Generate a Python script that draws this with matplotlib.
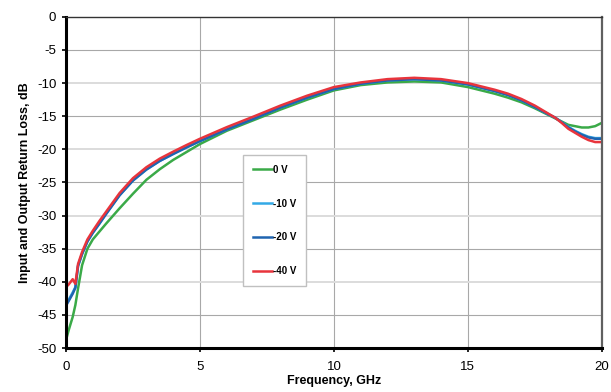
import numpy as np
import matplotlib
matplotlib.use("Agg")
import matplotlib.pyplot as plt

plt.rcParams['font.family'] = ['Liberation Sans', 'DejaVu Sans']
plt.rcParams['axes.unicode_minus'] = False

# frequency points, GHz
freq = [0, 0.1, 0.25, 0.35, 0.45, 0.6, 0.8, 1.0, 1.25, 1.5, 2.0, 2.5, 3.0, 3.5, 4.0,
        4.5, 5.0, 6.0, 7.0, 8.0, 9.0, 10.0, 11.0, 12.0, 13.0, 14.0, 15.0, 16.0, 16.5,
        17.0, 17.5, 18.0, 18.25, 18.5, 18.75, 19.0, 19.25, 19.5, 19.75, 20.0]

# 0 V
rl_0v = [-48.8, -47.3, -45.3, -43.5, -41.0, -37.5, -35.0, -33.6, -32.4, -31.2, -28.9,
         -26.7, -24.6, -23.0, -21.6, -20.4, -19.2, -17.2, -15.6, -14.0, -12.5, -11.1,
         -10.3, -9.9, -9.75, -9.9, -10.6, -11.6, -12.2, -12.9, -13.8, -14.8, -15.3,
         -15.8, -16.3, -16.5, -16.7, -16.7, -16.5, -16.0]
# -10 V
rl_10v = [-43.3, -42.7, -41.6, -40.8, -37.6, -35.8, -33.9, -32.6, -31.2, -29.7, -26.9,
          -24.7, -23.05, -21.75, -20.7, -19.7, -18.75, -17.0, -15.35, -13.7, -12.2, -10.9,
          -10.1, -9.6, -9.4, -9.6, -10.2, -11.2, -11.8, -12.6, -13.6, -14.7, -15.2,
          -15.9, -16.6, -17.2, -17.7, -18.1, -18.3, -18.3]
# -20 V
rl_20v = [-43.6, -42.9, -41.8, -40.9, -37.6, -35.8, -33.9, -32.6, -31.2, -29.75, -26.95,
          -24.7, -23.05, -21.75, -20.7, -19.7, -18.75, -17.0, -15.4, -13.7, -12.2, -10.9,
          -10.1, -9.6, -9.4, -9.6, -10.2, -11.2, -11.8, -12.6, -13.6, -14.7, -15.2,
          -15.9, -16.7, -17.3, -17.8, -18.2, -18.4, -18.4]
# -40 V
rl_40v = [-40.8, -40.4, -39.6, -40.3, -37.3, -35.5, -33.6, -32.3, -30.8, -29.4, -26.6,
          -24.35, -22.7, -21.4, -20.35, -19.35, -18.4, -16.65, -15.05, -13.4, -11.9, -10.6,
          -9.9, -9.4, -9.2, -9.4, -10.0, -11.0, -11.6, -12.4, -13.4, -14.6, -15.2,
          -16.0, -16.9, -17.5, -18.1, -18.6, -18.9, -18.9]

labels = ["0 V", "-10 V", "-20 V", "-40 V"]
colors = ["#3aaa48", "#33a9e6", "#1f64b0", "#e8343c"]
series = [rl_0v, rl_10v, rl_20v, rl_40v]

fig = plt.figure(figsize=(6.11, 3.92), dpi=100)
ax = fig.add_axes([0.108, 0.112, 0.877, 0.845])

# grid: vertical + horizontal, alternating shade like the original
for xv in [5, 10, 15]:
    ax.axvline(xv, color="#a8a8a8", lw=0.8, zorder=0)
for yv in range(-45, 0, 5):
    if yv % 10 == 0:
        ax.axhline(yv, color="#dcdcdc", lw=1.4, zorder=0)
    else:
        ax.axhline(yv, color="#a8a8a8", lw=0.8, zorder=0)

for s, c, lab in zip(series, colors, labels):
    ax.plot(freq, s, color=c, lw=1.8, label=lab, solid_joinstyle="round")

ax.set_xlim(0, 20)
ax.set_ylim(-50, 0)
ax.set_xticks([0, 5, 10, 15, 20])
ax.set_yticks(range(-50, 1, 5))
ax.tick_params(axis="both", direction="out", length=3, width=1.2, labelsize=9.5,
               colors="black", pad=4)
ax.tick_params(axis="x", pad=6)

ax.spines["left"].set_linewidth(2.2)
ax.spines["bottom"].set_linewidth(2.2)
ax.spines["top"].set_linewidth(1.0)
ax.spines["top"].set_color("#333333")
ax.spines["right"].set_linewidth(1.6)
ax.spines["right"].set_color("#606060")

ax.set_xlabel("Frequency, GHz", fontsize=9, fontweight="bold", labelpad=2)
ax.set_ylabel("Input and Output Return Loss, dB", fontsize=9, fontweight="bold", labelpad=4)

leg = ax.legend(loc="upper left", bbox_to_anchor=(0.330, 0.583), borderaxespad=0,
                prop={"weight": "bold", "size": 7}, labelspacing=2.45,
                handlelength=2.0, handletextpad=0.1, borderpad=1.0, fancybox=False,
                framealpha=1, edgecolor="#c0c0c0")
leg.get_frame().set_linewidth(1.0)

fig.savefig("out.png", dpi=100)
